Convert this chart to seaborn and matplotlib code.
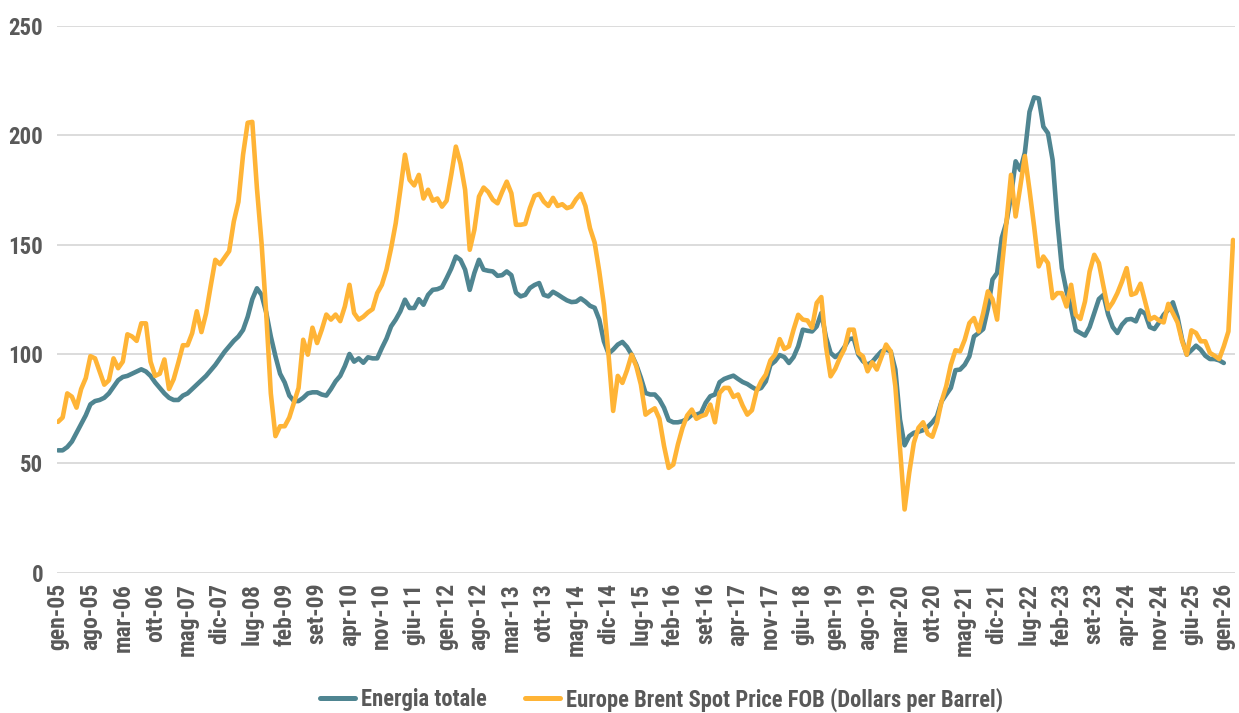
import matplotlib
matplotlib.use("Agg")
import matplotlib.pyplot as plt
from matplotlib import font_manager
from matplotlib.lines import Line2D
import numpy as np
import pandas as pd
import seaborn as sns

# mesi italiani per le etichette
mesi = ['gen', 'feb', 'mar', 'apr', 'mag', 'giu', 'lug', 'ago', 'set', 'ott', 'nov', 'dic']

# Energia totale, da gen-05 a gen-26
energia = [
    56, 56, 57.5, 60, 64, 68, 72, 77, 78.5, 79,
    80, 82, 85, 88, 89.5, 90, 91, 92, 93, 92,
    90, 87, 84.5, 82, 80, 79, 79, 81, 82, 84,
    86, 88, 90, 92.5, 95, 98, 101, 103.5, 106, 108,
    111, 117, 125, 130, 127, 119, 108, 99, 91, 87,
    81, 78.5, 78.5, 80, 82, 82.5, 82.5, 81.5, 81, 84,
    87.5, 90, 94.5, 100, 96.5, 98, 96, 98.5, 98, 98,
    102.7, 107, 112.6, 115.7, 119.5, 124.8, 121, 121, 125, 122.5,
    127, 129.3, 129.6, 130.5, 134.6, 139, 144.5, 143, 138.5, 129.3,
    137, 143, 138.5, 138, 137.7, 135.7, 136, 137.7, 136, 128,
    126.3, 127, 130.1, 131.5, 132.4, 127, 126.3, 128.4, 127.2, 125.8,
    124.5, 123.7, 123.9, 125.4, 123.9, 122, 121.1, 115.7, 105.8, 100.2,
    102, 104.3, 105.5, 103.2, 99.7, 95.1, 89.1, 82.2, 81.5, 81.5,
    79.2, 75.4, 69.8, 68.8, 68.8, 69.3, 70.4, 72.2, 72.3, 73.1,
    77.7, 80.7, 81.5, 87.1, 88.6, 89.4, 90.1, 88.6, 87.2, 86.3,
    84.9, 83.7, 84.5, 87.5, 95, 96.7, 99.5, 98.6, 95.9, 98.6,
    103.5, 111.1, 110.6, 110.3, 112.6, 118.7, 107.7, 100.5, 98.6, 100.2,
    103.2, 106.8, 107.1, 99.7, 96.7, 95.1, 96.4, 98.9, 101.2, 102,
    101.2, 92.9, 70.1, 58.3, 62.5, 64, 64.5, 65.2, 66.7, 68.8,
    71.6, 78.4, 81.5, 84.5, 92.6, 92.9, 95.1, 98.9, 108, 109.6,
    111.4, 120.7, 134, 137, 153, 160, 172, 188, 184, 192,
    210.6, 217.2, 216.7, 203.8, 200.8, 188.6, 161.2, 139.2, 128.6, 121,
    110.8, 109.6, 108.4, 112.3, 118.7, 125.1, 127, 118, 112.3, 109.6,
    113.4, 115.7, 116, 114.9, 119.9, 118.4, 112.3, 111.4, 114.4, 117.9,
    120.2, 123.6, 116.9, 106.5, 99.7, 101.7, 103.8, 102, 99.2, 97.7,
    97.7, 97.1, 95.9,
]

# Europe Brent Spot Price FOB, da gen-05 a mar-26
brent = [
    69, 71, 82, 80.5, 75.5, 84, 89, 99, 98, 92,
    86, 88, 98, 93.5, 96.5, 109, 108, 106, 114, 114,
    96.5, 90, 91, 97.5, 84, 88.5, 96, 104, 104, 109.5,
    119.5, 110, 118.5, 131, 143, 141, 144, 147, 160.5, 169.5,
    191, 205.6, 206, 175.7, 150.6, 118.7, 82, 62.5, 67, 67,
    71, 77.7, 84.5, 106.5, 99.7, 112, 105, 111, 118, 115.7,
    118, 115, 121.7, 131.6, 118.7, 115.7, 117, 119, 120.5, 127.8,
    131.6, 138.5, 148.3, 159.7, 175, 191, 179.5, 177, 181.8, 171,
    175, 170, 171, 167.3, 170, 181.8, 194.7, 187, 175, 147.6,
    156.7, 171.9, 176, 174, 170.4, 168.8, 174, 178.7, 173.4, 159,
    159, 159.4, 166.6, 172.2, 173.1, 169.6, 167.6, 171.3, 167.6, 168.4,
    166.6, 167.3, 170.7, 173.1, 167.6, 157.4, 150.9, 137.7, 122.5, 99.7,
    74, 90, 86.8, 92.6, 99.7, 94.4, 86, 72.3, 73.9, 75.2,
    70.4, 58, 48, 49.5, 58.7, 66.3, 71.9, 74.6, 70.4, 71.6,
    72.3, 76.9, 68.8, 82.2, 84.5, 84.5, 80.4, 81.5, 76.4, 72.3,
    74.3, 83, 87.5, 90.6, 97.1, 99.7, 106.8, 102.3, 103.5, 111.1,
    117.9, 115.7, 115.3, 112, 123.3, 126, 103.5, 89.8, 93.2, 98.2,
    102.3, 111.1, 111.1, 100.5, 98.9, 92.1, 96.2, 92.9, 98.6, 104.3,
    101.2, 85.3, 57, 29, 45.7, 59.4, 66.3, 68.8, 63.5, 62.2,
    68.5, 78.4, 85.3, 95.1, 101.7, 101.2, 106.5, 114.1, 116.4, 110.3,
    118.7, 128.6, 125, 115.7, 139, 159.7, 181.8, 162.8, 176.4, 190.4,
    174.9, 158.2, 140, 144.5, 141.5, 125.5, 127.8, 127.8, 121.7, 131.6,
    117.9, 116, 124, 137.7, 145.3, 141.5, 130.8, 120.5, 123.6, 127.8,
    133.1, 139.2, 127, 127.8, 132.1, 124, 115.7, 116.9, 115.3, 114.4,
    122.9, 118.7, 114.4, 105.8, 99.7, 110.8, 109.6, 105.8, 105.8, 100.5,
    99.2, 97.7, 103.5, 110.3, 152.1,
]

nomi = ['Energia totale', 'Europe Brent Spot Price FOB (Dollars per Barrel)']
colori = ['#4f8591', '#ffb436']

# etichette asse x: una ogni 7 mesi
tick_pos = list(range(0, 253, 7))
tick_lab = [f"{mesi[m % 12]}-{(5 + m // 12):02d}" for m in tick_pos]

df = pd.concat([
    pd.DataFrame({'mese': np.arange(len(energia)), 'valore': energia, 'serie': nomi[0]}),
    pd.DataFrame({'mese': np.arange(len(brent)), 'valore': brent, 'serie': nomi[1]}),
])

sns.set_style('white')
disponibili = {f.name for f in font_manager.fontManager.ttflist}
font = 'DejaVu Sans'
for fam in ['Liberation Sans Narrow', 'Roboto Condensed', 'Open Sans Condensed', 'Arial Narrow']:
    if fam in disponibili:
        font = fam
        break
scala = 1.0 if font != 'DejaVu Sans' else 0.72
plt.rcParams['font.family'] = [font, 'DejaVu Sans']
grigio = '#595959'

fig = plt.figure(figsize=(12.39, 7.13), dpi=100)
ax = fig.add_axes([0.046, 0.1964, 0.9508, 0.7678])

for nome, col in zip(nomi, colori):
    sns.lineplot(data=df[df['serie'] == nome], x='mese', y='valore', color=col,
                 linewidth=3.3, ax=ax, legend=False,
                 solid_capstyle='round', solid_joinstyle='round')

ax.set_xlim(-0.22, 254.43)
ax.set_ylim(0, 250)
ax.set_yticks(range(0, 251, 50))
ax.set_xticks(tick_pos)
ax.set_xticklabels(tick_lab, rotation=90, fontsize=17 * scala, color=grigio, fontweight='bold')
ax.set_yticklabels([str(v) for v in range(0, 251, 50)], fontsize=16.5 * scala,
                   color=grigio, fontweight='bold')
ax.tick_params(axis='x', length=0, pad=7)
ax.tick_params(axis='y', length=0, pad=10)
ax.grid(axis='y', color='#d9d9d9', linewidth=1.3)
ax.grid(axis='x', visible=False)
ax.set_axisbelow(True)
for s in ax.spines.values():
    s.set_visible(False)
ax.set_xlabel('')
ax.set_ylabel('')

handles = [Line2D([0], [0], color=c, linewidth=3.6, solid_capstyle='round') for c in colori]
fig.legend(handles, nomi, loc='center', bbox_to_anchor=(0.534, 0.019), ncol=2,
           frameon=False, handlelength=1.55, handletextpad=0.25, columnspacing=1.7,
           prop={'size': 16.3 * scala, 'weight': 'bold'}, labelcolor=grigio)

fig.savefig('out.png', dpi=100)
print(font)
